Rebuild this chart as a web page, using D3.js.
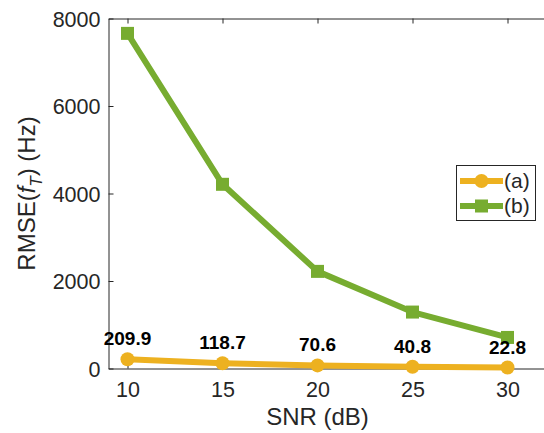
<!DOCTYPE html>
<html>
<head>
<meta charset="utf-8">
<script src="https://cdn.jsdelivr.net/npm/d3@7.9.0/dist/d3.min.js"></script>
<style>
  body { margin: 0; background: #fff; }
  text { font-family: "Liberation Sans", Arial, sans-serif; fill: #262626; }
</style>
</head>
<body>
<svg id="chart" width="544" height="433"></svg>
<script>
// data
const snr = [10, 15, 20, 25, 30];
const rmseA = [209.9, 118.7, 70.6, 40.8, 22.8];
const rmseB = [7660, 4210, 2220, 1290, 710];
const xTicks = [10, 15, 20, 25, 30];
const yTicks = [0, 2000, 4000, 6000, 8000];
const seriesNames = ['(a)', '(b)'];

const colA = '#EDB120';
const colB = '#77AC30';
const axisCol = '#262626';

const svg = d3.select('#chart');

// axes box (right side runs past the window edge)
const axLeft = 108.5, axTop = 18.5, axBottom = 368.5;
const x = d3.scaleLinear().domain([9, 32]).range([axLeft, axLeft + 19 * 23]);
const y = d3.scaleLinear().domain([0, 8000]).range([axBottom, axTop]);

// bottom axis
const xAxis = svg.append('g')
  .attr('transform', `translate(0,${axBottom})`)
  .call(d3.axisBottom(x).tickValues(xTicks).tickSizeInner(-5).tickSizeOuter(0).tickPadding(13));
// top axis (ticks only)
const xTop = svg.append('g')
  .attr('transform', `translate(0,${axTop})`)
  .call(d3.axisTop(x).tickValues(xTicks).tickSizeInner(-5).tickSizeOuter(0).tickFormat(''));
// left axis
const yAxis = svg.append('g')
  .attr('transform', `translate(${axLeft},0)`)
  .call(d3.axisLeft(y).tickValues(yTicks).tickFormat(d3.format('d'))
    .tickSizeInner(-5).tickSizeOuter(0).tickPadding(8));

[xAxis, xTop, yAxis].forEach(g => {
  g.attr('font-family', null);
  g.select('.domain').attr('stroke', axisCol).attr('stroke-width', 1);
  g.selectAll('.tick line').attr('stroke', axisCol);
  g.selectAll('.tick text')
    .attr('font-size', 21.5)
    .attr('fill', axisCol);
});
yAxis.selectAll('.tick text').attr('dy', '0.35em');

// axis labels
svg.append('text')
  .attr('x', (x(10) + x(30)) / 2)
  .attr('y', 425)
  .attr('text-anchor', 'middle')
  .attr('font-size', 24)
  .text('SNR (dB)');

const yl = svg.append('text')
  .attr('transform', `translate(35,${(axTop + axBottom) / 2}) rotate(-90)`)
  .attr('text-anchor', 'middle')
  .attr('font-size', 24);
yl.append('tspan').text('RMSE(');
yl.append('tspan').attr('font-style', 'italic').text('f');
yl.append('tspan').attr('font-style', 'italic').attr('font-size', 17).attr('dy', 7).text('T');
yl.append('tspan').attr('dy', -7).text(') (Hz)');

// lines
const line = d3.line().x(d => x(d[0])).y(d => y(d[1]));
const dataA = snr.map((s, i) => [s, rmseA[i]]);
const dataB = snr.map((s, i) => [s, rmseB[i]]);

svg.append('path').datum(dataB)
  .attr('d', line).attr('fill', 'none')
  .attr('stroke', colB).attr('stroke-width', 6).attr('stroke-linejoin', 'round');
svg.selectAll('.mb').data(dataB).join('rect')
  .attr('x', d => x(d[0]) - 6.5).attr('y', d => y(d[1]) - 6.5)
  .attr('width', 13).attr('height', 13).attr('fill', colB);

svg.append('path').datum(dataA)
  .attr('d', line).attr('fill', 'none')
  .attr('stroke', colA).attr('stroke-width', 6).attr('stroke-linejoin', 'round');
svg.selectAll('.ma').data(dataA).join('circle')
  .attr('cx', d => x(d[0])).attr('cy', d => y(d[1]))
  .attr('r', 7).attr('fill', colA);

// value labels on series (a)
svg.selectAll('.lbl').data(dataA).join('text')
  .attr('x', d => x(d[0]))
  .attr('y', d => y(d[1] + 320))
  .attr('text-anchor', 'middle')
  .attr('font-size', 19)
  .attr('font-weight', 'bold')
  .style('fill', '#000')
  .text(d => d[1].toFixed(1));

// legend
const lg = svg.append('g');
lg.append('rect')
  .attr('x', 456.5).attr('y', 165.5).attr('width', 79).attr('height', 55)
  .attr('fill', '#fff').attr('stroke', axisCol).attr('stroke-width', 1);
[colA, colB].forEach((c, i) => {
  const ly = 181 + i * 25;
  lg.append('line').attr('x1', 460).attr('x2', 503).attr('y1', ly).attr('y2', ly)
    .attr('stroke', c).attr('stroke-width', 6);
  if (i === 0) {
    lg.append('circle').attr('cx', 481.5).attr('cy', ly).attr('r', 7).attr('fill', c);
  } else {
    lg.append('rect').attr('x', 475).attr('y', ly - 6.5).attr('width', 13).attr('height', 13).attr('fill', c);
  }
  lg.append('text').attr('x', 504).attr('y', ly).attr('dy', '0.35em')
    .attr('font-size', 21).text(seriesNames[i]);
});
</script>
</body>
</html>
